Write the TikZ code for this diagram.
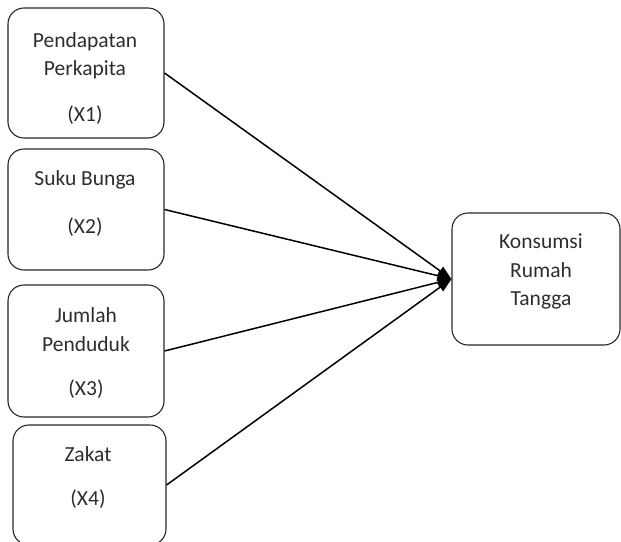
\documentclass[tikz,border=0pt]{standalone}
\usepackage{fontspec}
\setmainfont{Carlito}
\usetikzlibrary{arrows.meta}
\definecolor{txt}{RGB}{45,45,45}
\tikzset{
  box/.style={draw=black!85, line width=1.1pt, rounded corners=16pt, inner sep=0pt},
  lbl/.style={anchor=base, inner sep=0pt, text=txt, font=\fontsize{21.5}{26}\selectfont},
  conn/.style={draw=black, line width=1.5pt, -{Triangle[length=14pt,width=10pt]}}
}
\begin{document}
\begin{tikzpicture}[x=1pt,y=-1pt]
\useasboundingbox (0,0) rectangle (621,541);
% boxes
\node[box, minimum width=156pt, minimum height=130pt] (b1) at (86,73) {};
\node[box, minimum width=156pt, minimum height=121pt] (b2) at (86,209.5) {};
\node[box, minimum width=156pt, minimum height=132pt] (b3) at (86,351) {};
\node[box, minimum width=153pt, minimum height=120pt] (b4) at (89.5,485) {};
\node[box, minimum width=168pt, minimum height=132pt] (t) at (536,279) {};
% labels
\node[lbl] (l1a) at (85,47) {Pendapatan};
\node[lbl] (l1b) at (85,75) {Perkapita};
\node[lbl] (l1c) at (85,121) {(X1)};
\node[lbl] (l2a) at (85,185) {Suku Bunga};
\node[lbl] (l2b) at (85,233) {(X2)};
\node[lbl] (l3a) at (86,322) {Jumlah};
\node[lbl] (l3b) at (86,351) {Penduduk};
\node[lbl] (l3c) at (86,395) {(X3)};
\node[lbl] (l4a) at (88,461) {Zakat};
\node[lbl] (l4b) at (88,505) {(X4)};
\node[lbl] (tla) at (541,248) {Konsumsi};
\node[lbl] (tlb) at (541,277) {Rumah};
\node[lbl] (tlc) at (541,305) {Tangga};
% connectors
\draw[conn] (b1.east) -- (t.west);
\draw[conn] (b2.east) -- (t.west);
\draw[conn] (b3.east) -- (t.west);
\draw[conn] (b4.east) -- (t.west);
\end{tikzpicture}
\end{document}
